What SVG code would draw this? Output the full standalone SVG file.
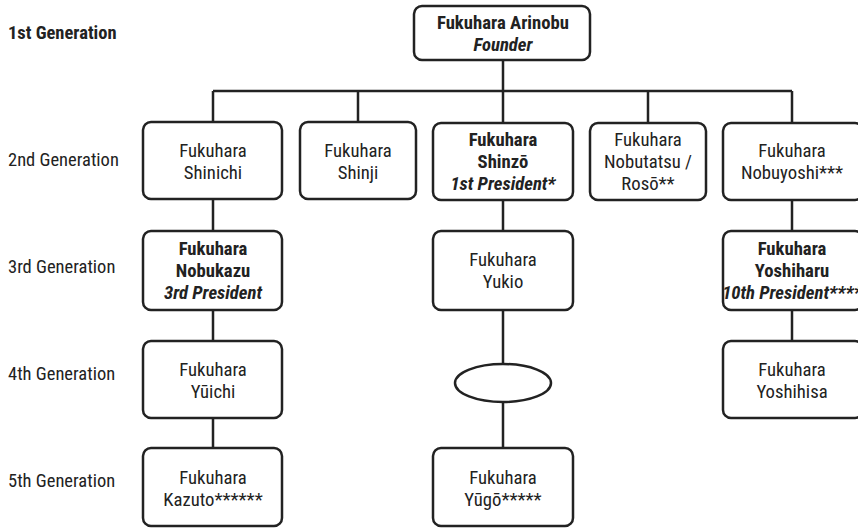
<svg xmlns="http://www.w3.org/2000/svg" width="858" height="529" viewBox="0 0 858 529">
<style>
text{font-family:"Roboto Condensed",Roboto,"Liberation Sans",sans-serif;font-size:18.7px;fill:#222;text-anchor:middle}
.gen{text-anchor:start;font-size:18.5px}
.b{font-weight:bold}
.bi{font-weight:bold;font-style:italic}
rect,ellipse{fill:#fff;stroke:#222;stroke-width:2.5}
#connectors path{stroke:#222;stroke-width:2.5;fill:none}
</style>
<rect width="858" height="529" fill="#fff" style="stroke:none"/>
<g id="labels">
<text class="gen b" x="8" y="39">1st Generation</text>
<text class="gen" x="8" y="166">2nd Generation</text>
<text class="gen" x="8" y="273">3rd Generation</text>
<text class="gen" x="8" y="380">4th Generation</text>
<text class="gen" x="8" y="487">5th Generation</text>
</g>
<g id="connectors">
<path d="M503 60V91M213 91H792M213 91V122M358 91V122M503 91V122M648 91V122M792 91V122"/>
<path d="M213 199V231M213 310V341M213 418V448"/>
<path d="M503 200V231M503 310V364M503 402V448"/>
<path d="M792 199V231M792 310V341"/>
</g>
<g id="arinobu"><rect x="414" y="6" width="176" height="54" rx="8"/><text class="b" x="503" y="29">Fukuhara Arinobu</text><text class="bi" x="503" y="51">Founder</text></g>
<g id="shinichi"><rect x="143" y="122" width="139" height="77" rx="8"/><text x="213" y="157">Fukuhara</text><text x="213" y="179">Shinichi</text></g>
<g id="shinji"><rect x="300" y="122" width="116" height="77" rx="8"/><text x="358" y="157">Fukuhara</text><text x="358" y="179">Shinji</text></g>
<g id="shinzo"><rect x="433" y="123" width="140" height="77" rx="8"/><text class="b" x="503" y="146">Fukuhara</text><text class="b" x="503" y="168">Shinzō</text><text class="bi" x="503" y="190">1st President*</text></g>
<g id="nobutatsu"><rect x="590" y="123" width="116" height="77" rx="8"/><text x="648" y="146">Fukuhara</text><text x="648" y="168">Nobutatsu /</text><text x="648" y="190">Rosō**</text></g>
<g id="nobuyoshi"><rect x="723" y="123" width="140" height="77" rx="8"/><text x="792" y="157">Fukuhara</text><text x="792" y="179">Nobuyoshi***</text></g>
<g id="nobukazu"><rect x="143" y="231" width="139" height="79" rx="8"/><text class="b" x="213" y="255">Fukuhara</text><text class="b" x="213" y="277">Nobukazu</text><text class="bi" x="213" y="299">3rd President</text></g>
<g id="yukio"><rect x="433" y="231" width="140" height="79" rx="8"/><text x="503" y="266">Fukuhara</text><text x="503" y="288">Yukio</text></g>
<g id="yoshiharu"><rect x="723" y="231" width="140" height="79" rx="8"/><text class="b" x="792" y="255">Fukuhara</text><text class="b" x="792" y="277">Yoshiharu</text><text class="bi" x="792" y="299">10th President****</text></g>
<g id="yuichi"><rect x="143" y="341" width="139" height="77" rx="8"/><text x="213" y="376">Fukuhara</text><text x="213" y="398">Yūichi</text></g>
<g id="unknown"><ellipse cx="503" cy="383" rx="48" ry="19"/></g>
<g id="yoshihisa"><rect x="723" y="341" width="140" height="77" rx="8"/><text x="792" y="376">Fukuhara</text><text x="792" y="398">Yoshihisa</text></g>
<g id="kazuto"><rect x="143" y="448" width="139" height="78" rx="8"/><text x="213" y="484">Fukuhara</text><text x="213" y="506">Kazuto******</text></g>
<g id="yugo"><rect x="433" y="448" width="140" height="78" rx="8"/><text x="503" y="484">Fukuhara</text><text x="503" y="506">Yūgō*****</text></g>
</svg>
